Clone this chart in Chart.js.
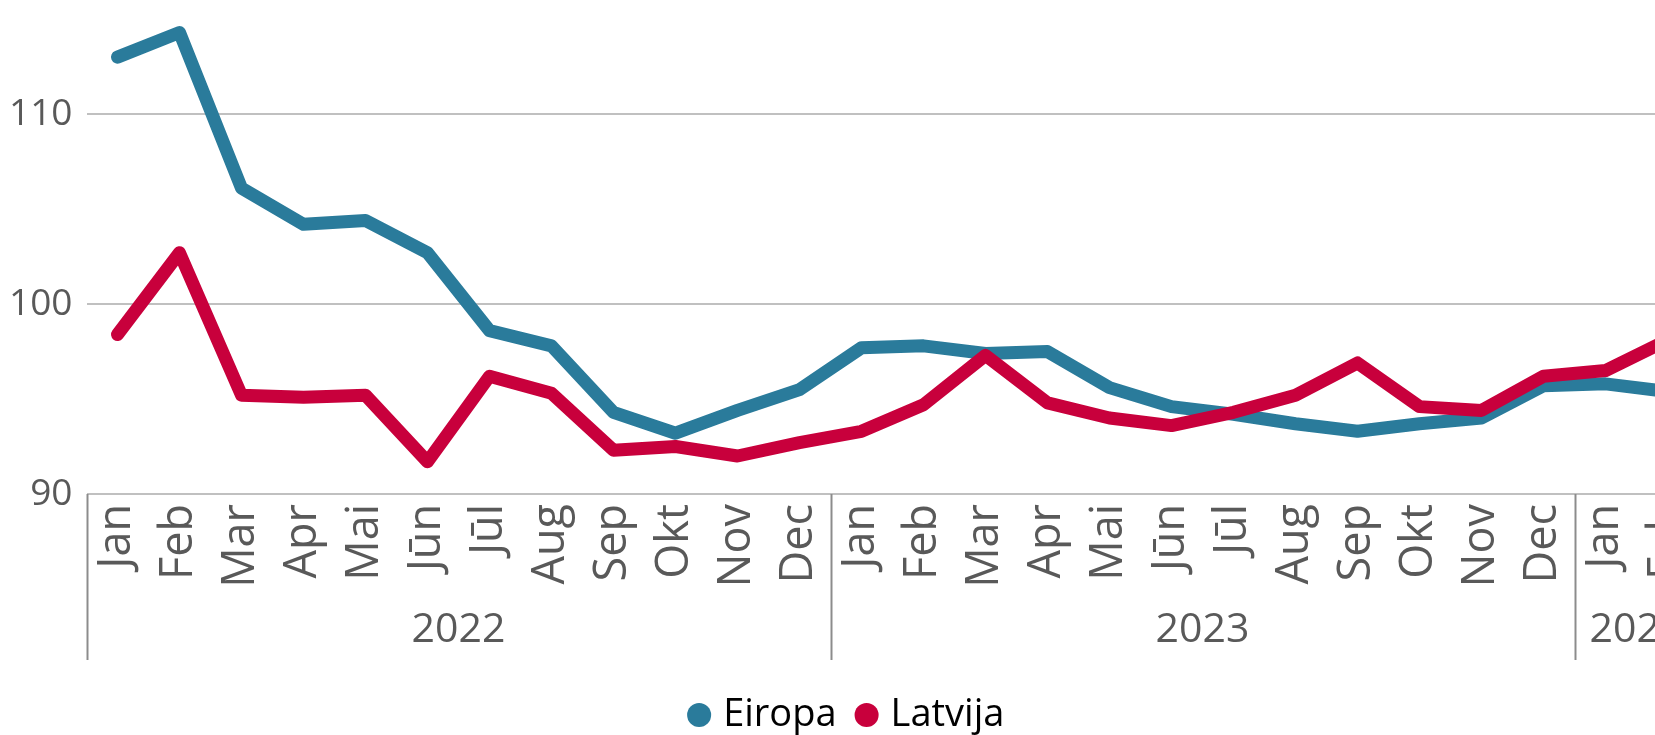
<!DOCTYPE html>
<html>
<head>
<meta charset="utf-8">
<script src="https://cdn.jsdelivr.net/npm/chart.js@4"></script>
<style>
  html, body { margin: 0; padding: 0; width: 1655px; height: 735px; overflow: hidden; background: #ffffff; }
  #wrap { position: absolute; left: 0; top: -112px; width: 1700px; height: 856px; }
</style>
</head>
<body>
<div id="wrap"><canvas id="c"></canvas></div>
<script>
const categories = ['Jan','Feb','Mar','Apr','Mai','Jūn','Jūl','Aug','Sep','Okt','Nov','Dec',
                    'Jan','Feb','Mar','Apr','Mai','Jūn','Jūl','Aug','Sep','Okt','Nov','Dec',
                    'Jan','Feb'];
const years = ['2022','2023','2024'];
const yearLengths = [12, 12, 2];
const eiropa = [113.0,114.3,106.1,104.2,104.4,102.7,98.6,97.8,94.3,93.2,94.4,95.5,
                97.7,97.8,97.4,97.5,95.6,94.6,94.2,93.7,93.3,93.7,94.0,95.7,
                95.8,95.4];
const latvija = [98.4,102.7,95.2,95.1,95.2,91.7,96.2,95.3,92.3,92.5,92.0,92.7,
                 93.3,94.7,97.3,94.8,94.0,93.6,94.3,95.2,96.9,94.6,94.4,96.2,
                 96.5,98.1];
const seriesNames = ['Eiropa','Latvija'];
const yMin = 90, yMax = 120, yStep = 10;

const FONT = "'Open Sans', 'DejaVu Sans', sans-serif";
const TXT = '#595959';

// year boundaries and centres derived from yearLengths
const bounds = [0];
yearLengths.forEach(n => bounds.push(bounds[bounds.length - 1] + n));
const centres = yearLengths.map((n, i) => bounds[i] + n / 2);

const groupSeparators = {
  id: 'groupSeparators',
  afterDraw(chart) {
    const x2 = chart.scales.x2;
    const ctx = chart.ctx;
    ctx.save();
    ctx.strokeStyle = '#8c8c8c';
    ctx.lineWidth = 2;
    bounds.forEach(v => {
      const px = Math.round(x2.getPixelForValue(v)) + 0.5;
      ctx.beginPath();
      ctx.moveTo(px, chart.chartArea.bottom);
      ctx.lineTo(px, x2.bottom - 11);
      ctx.stroke();
    });
    ctx.restore();
  }
};

new Chart(document.getElementById('c'), {
  type: 'line',
  data: {
    labels: categories,
    datasets: [
      { label: seriesNames[0], data: eiropa, borderColor: '#2a7b9b', backgroundColor: '#2a7b9b',
        borderWidth: 13, pointRadius: 0, tension: 0, borderCapStyle: 'round', borderJoinStyle: 'round', order: 2 },
      { label: seriesNames[1], data: latvija, borderColor: '#c8003c', backgroundColor: '#c8003c',
        borderWidth: 13, pointRadius: 0, tension: 0, borderCapStyle: 'round', borderJoinStyle: 'round', order: 1 }
    ]
  },
  options: {
    responsive: true,
    maintainAspectRatio: false,
    animation: false,
    devicePixelRatio: 1,
    layout: { padding: { left: 0, right: 1.5, top: 0, bottom: 0 } },
    plugins: {
      tooltip: { enabled: false },
      legend: {
        position: 'bottom',
        labels: {
          usePointStyle: true,
          pointStyle: 'circle',
          boxWidth: 10,
          boxHeight: 17,
          padding: 25,
          color: '#000000',
          font: { family: FONT, size: 38 },
          generateLabels: (chart) => Chart.defaults.plugins.legend.labels.generateLabels(chart)
            .map(item => Object.assign(item, { lineWidth: 0 })),
          sort: (a, b) => a.datasetIndex - b.datasetIndex
        }
      }
    },
    scales: {
      y: {
        min: yMin, max: yMax,
        ticks: { stepSize: yStep, color: TXT, font: { family: FONT, size: 37 }, padding: 14 },
        grid: { color: '#c0c0c0', lineWidth: 2, drawTicks: false },
        border: { display: false },
        afterFit: s => { s.width = 86.5; }
      },
      x: {
        type: 'category',
        offset: true,
        grid: { display: false, drawTicks: false },
        border: { display: false },
        ticks: {
          autoSkip: false, minRotation: 90, maxRotation: 90,
          color: TXT, font: { family: FONT, size: 45 }, padding: 10
        },
        afterFit: s => { s.height = 100; s.paddingLeft = 0; s.paddingRight = 0; }
      },
      x2: {
        type: 'linear',
        position: 'bottom',
        min: 0, max: bounds[bounds.length - 1],
        grid: { display: false, drawTicks: false },
        border: { display: false },
        afterBuildTicks: s => { s.ticks = centres.map(v => ({ value: v })); },
        ticks: {
          autoSkip: false, maxRotation: 0, minRotation: 0,
          color: TXT, font: { family: FONT, size: 41 }, padding: 12,
          callback: (v) => { const i = centres.indexOf(v); return i >= 0 ? years[i] : ''; }
        },
        afterFit: s => { s.height = 77; s.paddingLeft = 0; s.paddingRight = 0; }
      }
    }
  },
  plugins: [groupSeparators]
});
</script>
</body>
</html>
